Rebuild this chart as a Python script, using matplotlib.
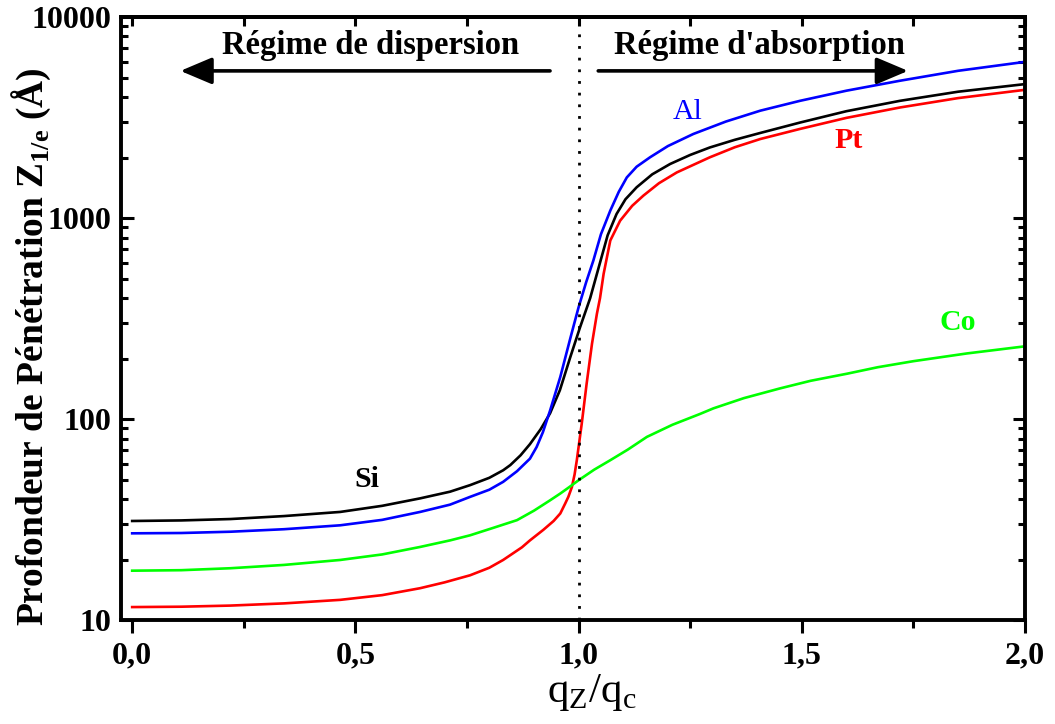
import matplotlib
matplotlib.use("Agg")
import matplotlib.pyplot as plt
from matplotlib.ticker import FixedLocator, MultipleLocator, LogLocator, NullFormatter

# -- Data ---------------------------------------------------------------------

si_x = [0, 0.11, 0.22, 0.34, 0.466, 0.56, 0.645, 0.712, 0.757, 0.80, 0.831, 0.847,
        0.87, 0.891, 0.915, 0.936, 0.958, 0.981, 1.003, 1.026, 1.048, 1.065, 1.085,
        1.105, 1.130, 1.165, 1.205, 1.25, 1.294, 1.35, 1.407, 1.496, 1.60, 1.720,
        1.85, 2.0]
si_y = [31.1, 31.3, 31.8, 32.9, 34.5, 37.0, 40.3, 43.5, 46.9, 51, 55.6, 59.0,
        66, 75, 89, 106.7, 139, 202, 285, 400, 600, 820, 1047,
        1240, 1422, 1650, 1857, 2060, 2244, 2450, 2650, 2985, 3400, 3829,
        4250, 4637]

al_x = [0, 0.11, 0.22, 0.34, 0.466, 0.56, 0.645, 0.712, 0.757, 0.80, 0.831, 0.862,
        0.891, 0.906, 0.92, 0.936, 0.959, 0.981, 0.992, 1.0, 1.017, 1.033, 1.05,
        1.071, 1.09, 1.108, 1.13, 1.16, 1.20, 1.257, 1.33, 1.407, 1.496, 1.60,
        1.720, 1.85, 2.0]
al_y = [27.0, 27.1, 27.5, 28.3, 29.6, 31.5, 34.5, 37.5, 41.0, 44.5, 48.7, 55.0,
        63.5, 72.6, 86, 110, 162, 250, 309, 360, 480, 614, 830,
        1089, 1350, 1592, 1800, 2005, 2280, 2619, 3020, 3420, 3829, 4300,
        4820, 5400, 5983]

pt_x = [0, 0.11, 0.22, 0.34, 0.466, 0.56, 0.645, 0.70, 0.757, 0.80, 0.831, 0.873,
        0.891, 0.921, 0.944, 0.959, 0.970, 0.977, 0.985, 0.991, 0.996, 1.007, 1.018,
        1.030, 1.041, 1.048, 1.056, 1.071, 1.093, 1.12, 1.145, 1.18, 1.220, 1.294,
        1.35, 1.407, 1.496, 1.60, 1.720, 1.85, 2.0]
pt_y = [11.6, 11.65, 11.8, 12.1, 12.6, 13.3, 14.4, 15.4, 16.7, 18.2, 19.9, 23.0,
        24.9, 28.1, 31.1, 33.9, 38.0, 41.0, 45.9, 53, 62.4, 94.8, 150,
        237, 334, 400, 527, 773, 970, 1150, 1292, 1490, 1686, 2005,
        2250, 2472, 2775, 3150, 3548, 3950, 4343]

co_x = [0, 0.11, 0.22, 0.34, 0.466, 0.56, 0.645, 0.712, 0.757, 0.81, 0.862, 0.90,
        0.936, 0.959, 0.98, 1.0, 1.035, 1.071, 1.11, 1.153, 1.21, 1.272, 1.302,
        1.37, 1.451, 1.52, 1.601, 1.67, 1.750, 1.87, 2.0]
co_y = [17.6, 17.7, 18.1, 18.8, 19.9, 21.2, 23.1, 24.9, 26.4, 28.8, 31.4, 35,
        39.4, 42.6, 46, 49.6, 56, 62.4, 70.4, 81.5, 93.6, 106, 113,
        127, 142, 155, 168, 181, 194, 212, 230]

x_ticks = [0.0, 0.5, 1.0, 1.5, 2.0]
x_tick_labels = ["0,0", "0,5", "1,0", "1,5", "2,0"]
y_ticks = [10, 100, 1000, 10000]
y_tick_labels = ["10", "100", "1000", "10000"]

# -- Style --------------------------------------------------------------------

plt.rcParams["font.family"] = ["Liberation Serif", "DejaVu Serif"]
plt.rcParams["mathtext.fontset"] = "custom"
plt.rcParams["mathtext.rm"] = "Liberation Serif"
plt.rcParams["mathtext.bf"] = "Liberation Serif:bold"

SPINE_W = 2.8
TICK_FS = 23

fig = plt.figure(figsize=(10.55, 7.24), dpi=100)
ax = fig.add_axes([0.1147, 0.1436, 0.8569, 0.8329])

lw = 1.9
ax.plot(si_x, si_y, color="black", lw=lw)
ax.plot(al_x, al_y, color="#0000ff", lw=lw)
ax.plot(pt_x, pt_y, color="#ff0000", lw=lw)
ax.plot(co_x, co_y, color="#00ff00", lw=lw)

ax.axvline(1.0, color="black", lw=2.0, ls=(0, (1, 3.2)))

ax.set_yscale("log")
ax.set_xlim(-0.025, 2.0)
ax.set_ylim(10, 10000)

ax.xaxis.set_major_locator(FixedLocator(x_ticks))
ax.set_xticklabels(x_tick_labels)
ax.xaxis.set_minor_locator(MultipleLocator(0.25))
ax.yaxis.set_major_locator(FixedLocator(y_ticks))
ax.set_yticklabels(y_tick_labels)
ax.yaxis.set_minor_locator(LogLocator(base=10, subs=range(2, 10)))
ax.yaxis.set_minor_formatter(NullFormatter())

for s in ax.spines.values():
    s.set_linewidth(SPINE_W)

ax.tick_params(axis="x", which="both", direction="out", top=False, width=2.2,
               labelsize=TICK_FS, pad=6)
ax.tick_params(axis="x", which="major", length=9.5)
ax.tick_params(axis="x", which="minor", length=5.5)
ax.tick_params(axis="y", which="both", direction="in", left=True, right=True,
               width=2.2, labelsize=TICK_FS, pad=7)
ax.tick_params(axis="y", which="major", length=9)
ax.tick_params(axis="y", which="minor", length=5)
for lab in ax.get_xticklabels() + ax.get_yticklabels():
    lab.set_fontweight("bold")

# top ticks point inward, unlike the bottom ones
secax = ax.secondary_xaxis("top")
secax.xaxis.set_major_locator(FixedLocator(x_ticks))
secax.xaxis.set_minor_locator(MultipleLocator(0.25))
secax.tick_params(which="both", direction="in", length=6.5, width=2.2, labeltop=False)
secax.spines["top"].set_linewidth(SPINE_W)

ax.set_ylabel(r"Profondeur de Pénétration Z$_{\mathbf{1/e}}$ (Å)", fontsize=27,
              fontweight="bold")
ax.yaxis.set_label_coords(-0.075, 0.453)
ax.set_xlabel(r"q$_\mathrm{Z}$/q$_\mathrm{c}$", fontsize=31)
ax.xaxis.set_label_coords(0.521, -0.086)

# -- Annotations --------------------------------------------------------------

arrow = dict(arrowstyle="-|>,head_length=0.97,head_width=0.41", lw=2.6,
             color="black", mutation_scale=20, shrinkA=0, shrinkB=0)
ax.annotate("", xy=(0.108, 5395), xytext=(0.936, 5395), arrowprops=arrow)
ax.annotate("", xy=(1.738, 5395), xytext=(1.044, 5395), arrowprops=arrow)
ax.text(0.535, 6558, "Régime de dispersion", ha="center", va="baseline",
        fontsize=23.5, fontweight="bold")
ax.text(1.404, 6558, "Régime d'absorption", ha="center", va="baseline",
        fontsize=23.5, fontweight="bold")

ax.text(0.526, 45.8, "Si", ha="center", va="baseline", fontsize=21.5,
        fontweight="bold", color="black")
ax.text(1.245, 3120, "Al", ha="center", va="baseline", fontsize=21.5,
        color="#0000ff")
ax.text(1.604, 2240, "Pt", ha="center", va="baseline", fontsize=21.5,
        fontweight="bold", color="#ff0000")
ax.text(1.850, 276, "Co", ha="center", va="baseline", fontsize=21.5,
        fontweight="bold", color="#00ff00")

fig.savefig("out.png", dpi=100)
